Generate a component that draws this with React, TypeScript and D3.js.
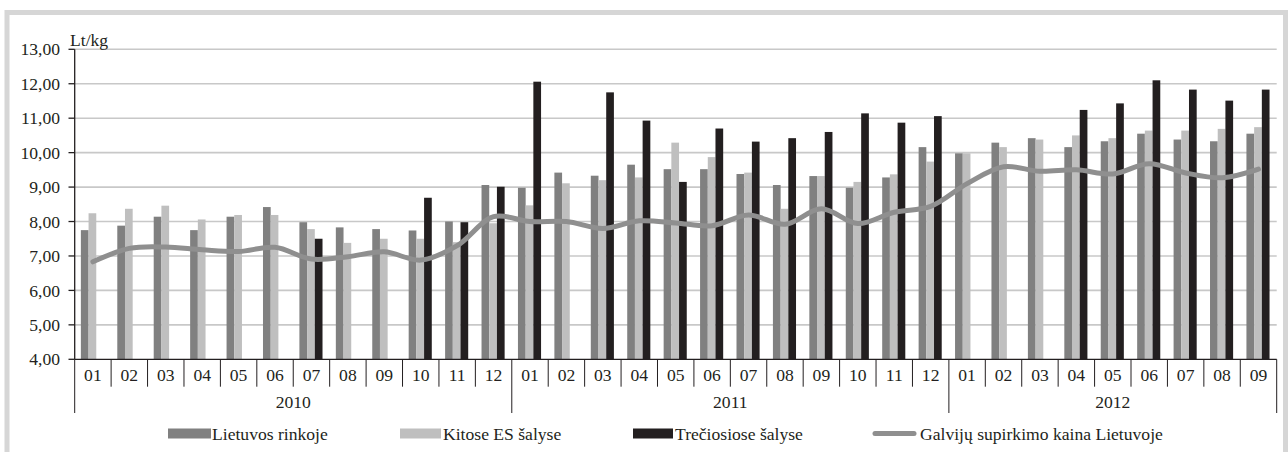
import React from "react";
import * as d3 from "d3";

const years = ["2010", "2011", "2012"];
const monthsPerYear = [12, 12, 9];
const months: string[] = [];
years.forEach((yr, i) => {
  for (let m = 1; m <= monthsPerYear[i]; m++) months.push(yr + "-" + String(m).padStart(2, "0"));
});

// Lietuvos rinkoje
const lietuvos = [
  7.75, 7.88, 8.14, 7.75, 8.14, 8.42, 7.98, 7.83, 7.78, 7.74, 8.0, 9.06,
  8.98, 9.42, 9.33, 9.65, 9.52, 9.52, 9.38, 9.06, 9.32, 8.98, 9.28, 10.16,
  9.98, 10.29, 10.42, 10.16, 10.33, 10.55, 10.38, 10.33, 10.55,
];
// Kitose ES šalyse
const kitose = [
  8.24, 8.37, 8.46, 8.06, 8.19, 8.19, 7.78, 7.38, 7.5, 7.5, 7.4, 7.95,
  8.47, 9.11, 9.2, 9.28, 10.29, 9.87, 9.42, 8.37, 9.32, 9.15, 9.37, 9.74,
  9.98, 10.16, 10.38, 10.5, 10.42, 10.64, 10.64, 10.69, 10.74,
];
// Trečiosiose šalyse
const treciosiose: (number | null)[] = [
  null, null, null, null, null, null, 7.5, null, null, 8.69, 7.98, 9.01,
  12.06, null, 11.75, 10.93, 9.15, 10.7, 10.32, 10.42, 10.6, 11.14, 10.87, 11.06,
  null, null, null, 11.24, 11.43, 12.1, 11.83, 11.51, 11.83,
];
// Galvijų supirkimo kaina Lietuvoje
const galviju = [
  6.83, 7.22, 7.26, 7.18, 7.13, 7.25, 6.91, 6.98, 7.12, 6.88, 7.3, 8.14,
  8.0, 8.0, 7.8, 8.02, 7.96, 7.88, 8.19, 7.92, 8.37, 7.94, 8.27, 8.44,
  9.1, 9.59, 9.46, 9.5, 9.38, 9.68, 9.41, 9.27, 9.52,
];
const yTicks = [4, 5, 6, 7, 8, 9, 10, 11, 12, 13];

const seriesNames = ["Lietuvos rinkoje", "Kitose ES šalyse", "Trečiosiose šalyse", "Galvijų supirkimo kaina Lietuvoje"];
const colors = ["#808080", "#bfbfbf", "#231f20", "#8f8f8f"];

const W = 1288;
const H = 452;
const FONT = "'Liberation Serif', 'DejaVu Serif'";

export default function App() {
  const x = d3.scaleBand<string>().domain(months).range([74.7, 1276.7]).padding(0);
  const y = d3.scaleLinear().domain([4, 13]).range([359.3, 49.3]);
  const bw = 7.7;
  const barSeries = [lietuvos, kitose, treciosiose];

  const line = d3
    .line<number>()
    .x((_, i) => (x(months[i]) as number) + x.bandwidth() / 2)
    .y((d) => y(d))
    .curve(d3.curveCatmullRom.alpha(0.5));

  const yearStarts: number[] = [];
  let acc = 0;
  monthsPerYear.forEach((n) => {
    yearStarts.push(acc);
    acc += n;
  });

  const legendItems = [
    { sx: 168, sw: 43, tx: 212 },
    { sx: 400, sw: 41, tx: 443 },
    { sx: 633, sw: 40, tx: 675 },
    { sx: 873, sw: 43, tx: 920 },
  ];

  const T = (props: any) => (
    <text fontFamily={FONT} fontSize={17.6} fill="#231f20" {...props} />
  );

  return (
    <svg width={W} height={H} style={{ position: "absolute", left: 0, top: 0, background: "#fff" }}>
      <rect x={7} y={12.5} width={1278.5} height={460} fill="#fff" stroke="#d6d6d6" strokeWidth={5} />
      {yTicks.slice(1).map((t) => (
        <line key={t} x1={74.7} x2={1276.7} y1={y(t)} y2={y(t)} stroke="#c8c8c8" strokeWidth={1.6} />
      ))}
      {barSeries.map((s, si) =>
        s.map((v, i) =>
          v == null ? null : (
            <rect
              key={si + "-" + i}
              x={(x(months[i]) as number) + x.bandwidth() / 2 - 1.5 * bw + si * bw - 0.5}
              y={y(v)}
              width={bw}
              height={y(4) - y(v)}
              fill={colors[si]}
            />
          )
        )
      )}
      <path d={line(galviju) || ""} fill="none" stroke={colors[3]} strokeWidth={5} strokeLinejoin="round" strokeLinecap="round" />
      <line x1={74.7} x2={74.7} y1={y(13)} y2={y(4)} stroke="#231f20" strokeWidth={1.3} />
      {yTicks.map((t) => (
        <g key={"yt" + t}>
          <line x1={68.5} x2={74.7} y1={y(t)} y2={y(t)} stroke="#231f20" strokeWidth={1.3} />
          <T x={60} y={y(t)} dy="0.35em" textAnchor="end">
            {d3.format(".2f")(t).replace(".", ",")}
          </T>
        </g>
      ))}
      <T x={70} y={46}>Lt/kg</T>
      <line x1={74.7} x2={1276.7} y1={y(4)} y2={y(4)} stroke="#231f20" strokeWidth={1.3} />
      {months.map((m, i) => (
        <g key={"m" + m}>
          {i > 0 && !yearStarts.includes(i) ? (
            <line x1={x(m) as number} x2={x(m) as number} y1={y(4)} y2={386.7} stroke="#231f20" strokeWidth={1} />
          ) : null}
          <T x={(x(m) as number) + x.bandwidth() / 2} y={375} dy="0.35em" textAnchor="middle">
            {m.slice(5)}
          </T>
        </g>
      ))}
      {yearStarts.map((s, i) => (
        <line key={"ys" + i} x1={x(months[s]) as number} x2={x(months[s]) as number} y1={y(4)} y2={413} stroke="#231f20" strokeWidth={1} />
      ))}
      <line x1={1276.7} x2={1276.7} y1={y(4)} y2={413} stroke="#231f20" strokeWidth={1} />
      {years.map((yr, i) => {
        const a = x(months[yearStarts[i]]) as number;
        const b = (x(months[yearStarts[i] + monthsPerYear[i] - 1]) as number) + x.bandwidth();
        return (
          <T key={yr} x={(a + b) / 2} y={401.5} dy="0.35em" textAnchor="middle">
            {yr}
          </T>
        );
      })}
      {legendItems.map((it, i) => (
        <g key={"lg" + i}>
          {i < 3 ? (
            <rect x={it.sx} y={428.5} width={it.sw} height={10} fill={colors[i]} />
          ) : (
            <line x1={it.sx + 2} x2={it.sx + it.sw - 2} y1={433.5} y2={433.5} stroke={colors[3]} strokeWidth={5} strokeLinecap="round" />
          )}
          <T x={it.tx} y={433.5} dy="0.35em">
            {seriesNames[i]}
          </T>
        </g>
      ))}
    </svg>
  );
}
